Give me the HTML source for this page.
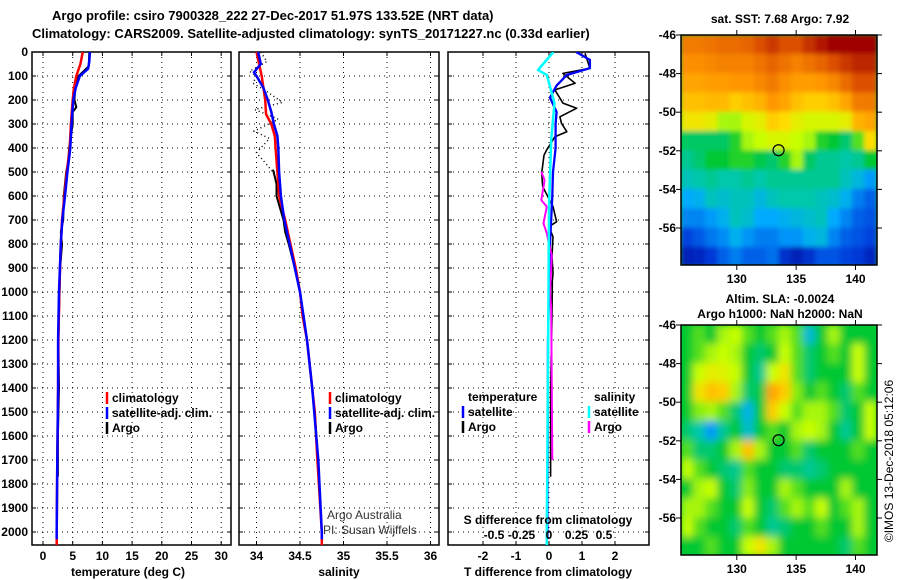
<!DOCTYPE html>
<html><head><meta charset="utf-8"><style>
html,body{margin:0;padding:0;background:#fff;}
svg{display:block;font-family:"Liberation Sans",Arial,sans-serif;}
.b{font-weight:bold;font-size:12px;}
.t{font-weight:bold;font-size:13px;}
.n{font-weight:normal;font-size:12px;}
</style></head><body>
<svg id="c" width="900" height="580" viewBox="0 0 900 580">
<defs>
<clipPath id="cp1"><rect x="32" y="52" width="199" height="493"/></clipPath>
<clipPath id="cp2"><rect x="239" y="52" width="200" height="493"/></clipPath>
<clipPath id="cp3"><rect x="448" y="52" width="201" height="493"/></clipPath>
<clipPath id="cpm1"><rect x="681" y="35" width="196" height="230"/></clipPath>
<clipPath id="cpm2"><rect x="681" y="325" width="196" height="230"/></clipPath>
<filter id="bl1" x="-5%" y="-5%" width="110%" height="110%"><feGaussianBlur stdDeviation="2.5"/></filter>
<filter id="bl2" x="-5%" y="-5%" width="110%" height="110%"><feGaussianBlur stdDeviation="4"/></filter>
</defs>
<text class="t" x="52" y="20">Argo profile: csiro 7900328_222 27-Dec-2017 51.97S 133.52E (NRT data)</text>
<text class="t" x="32" y="38">Climatology: CARS2009. Satellite-adjusted climatology: synTS_20171227.nc (0.33d earlier)</text>
</svg>
<script>
// ---- data ----
const depthTicks=[0,100,200,300,400,500,600,700,800,900,1000,1100,1200,1300,1400,1500,1600,1700,1800,1900,2000];
const tempTicks=[0,5,10,15,20,25,30];
const salTicks=[34,34.5,35,35.5,36];
const salTickLabels=["34","34.5","35","35.5","36"];
const tdiffTicks=[-2,-1,0,1,2];
const sdiffTicks=[-0.5,-0.25,0,0.25,0.5];
const sdiffTickLabels=["-0.5","-0.25","0","0.25","0.5"];

const tClimDepth=[0,50,100,150,200,300,400,500,600,700,800,1000,1200,1400,1700,2000,2055];
const tClimVal=[6.7,6.3,5.6,5.2,5.0,4.7,4.5,4.0,3.6,3.2,3.0,2.75,2.6,2.55,2.4,2.3,2.3];
const tSatDepth=[0,40,70,100,150,200,300,400,500,600,700,800,1000,1200,1400,1700,2000,2030];
const tSatVal=[7.9,7.8,7.6,6.2,5.5,5.1,4.8,4.6,4.1,3.7,3.25,3.0,2.7,2.55,2.55,2.4,2.3,2.3];
const tArgoDepth=[0,60,100,150,200,230,250,300,400,450,500,600,700,750,800,900,1000,1200,1400,1600,1770];
const tArgoVal=[7.8,7.7,6.0,5.4,5.3,5.6,5.0,5.0,4.4,4.3,3.9,3.5,3.4,3.0,3.2,2.9,2.8,2.6,2.7,2.5,2.5];

const sClimDepth=[0,100,200,260,300,350,400,500,600,700,800,900,1000,1100,1200,1400,1500,1700,2000,2055];
const sClimVal=[34.0,34.06,34.1,34.11,34.17,34.21,34.22,34.24,34.26,34.33,34.39,34.45,34.5,34.53,34.58,34.64,34.67,34.7,34.75,34.75];
const sSatDepth=[0,50,85,100,150,200,250,300,350,400,500,600,700,800,900,1000,1200,1400,1700,2000,2030];
const sSatVal=[34.02,34.05,33.97,34.0,34.08,34.13,34.17,34.2,34.24,34.25,34.26,34.28,34.32,34.38,34.44,34.5,34.58,34.64,34.71,34.75,34.75];
const sArgoDepth=[490,520,550,600,650,700,750,800,900,1000,1200,1500,1800];
const sArgoVal=[34.19,34.21,34.23,34.23,34.27,34.31,34.33,34.37,34.44,34.5,34.58,34.67,34.72];
const sArgoDotDepth=[0,40,80,100,130,160,210,240,280,330,360,420,470,500];
const sArgoDotVal=[34.05,34.12,33.92,34.0,33.96,34.1,34.3,33.98,34.25,33.97,34.15,34.0,34.12,34.19];

const dTSatDepth=[0,33,67,96,140,190,250,300,400,500,600,800,1000,1200,2000,2030];
const dTSatVal=[0.82,1.24,1.24,0.54,0.23,0.03,0.23,0.2,0.2,0.12,0.1,0.03,0.0,-0.03,-0.05,-0.05];
const dTArgoDepth=[5,68,89,130,158,213,234,270,297,332,353,408,430,505,561,644,707,728,770,850,922,955,1103,1400,1770];
const dTArgoVal=[1.09,1.24,0.42,0.79,0.18,0.42,0.84,0.33,0.38,0.54,0.18,-0.07,-0.15,-0.22,-0.19,0.12,0.23,0.0,0.12,0.09,0.12,0.1,0.09,0.05,0.05];
const dSSatDepth=[0,75,96,213,367,644,1000,2000,2055];
const dSSatVal=[0.04,-0.1,-0.02,0.05,0.02,0.0,-0.005,-0.02,-0.02];
const dSArgoDepth=[499,534,617,644,714,755,800,847,1000,1069,1700];
const dSArgoVal=[-0.07,-0.04,-0.07,-0.02,-0.05,-0.02,0.0,0.025,0.01,0.02,0.03];

const mapLatTicks=[-46,-48,-50,-52,-54,-56];
const mapLonTicks=[130,135,140];
const sstGrid=[
[0.84,0.84,0.85,0.86,0.86,0.87,0.9,0.93,0.9,0.9,0.94,0.97,1.0,1.0,1.0,1.0],
[0.81,0.81,0.82,0.83,0.83,0.83,0.85,0.87,0.85,0.83,0.85,0.87,0.9,0.93,0.95,0.95],
[0.78,0.78,0.79,0.79,0.8,0.8,0.82,0.84,0.81,0.79,0.79,0.8,0.82,0.86,0.9,0.9],
[0.74,0.74,0.75,0.75,0.72,0.74,0.76,0.8,0.78,0.74,0.72,0.72,0.74,0.78,0.84,0.84],
[0.68,0.68,0.66,0.6,0.6,0.64,0.66,0.72,0.7,0.66,0.64,0.64,0.64,0.66,0.76,0.78],
[0.46,0.46,0.46,0.46,0.52,0.6,0.62,0.64,0.64,0.62,0.6,0.52,0.5,0.45,0.55,0.7],
[0.42,0.45,0.5,0.5,0.52,0.52,0.48,0.45,0.52,0.6,0.46,0.42,0.42,0.4,0.42,0.5],
[0.38,0.4,0.42,0.4,0.4,0.42,0.4,0.42,0.42,0.42,0.42,0.42,0.42,0.38,0.34,0.28],
[0.3,0.32,0.38,0.36,0.38,0.38,0.34,0.38,0.4,0.4,0.4,0.38,0.36,0.32,0.24,0.2],
[0.25,0.25,0.28,0.32,0.38,0.36,0.3,0.3,0.32,0.34,0.36,0.38,0.3,0.25,0.2,0.18],
[0.16,0.19,0.23,0.26,0.32,0.27,0.24,0.24,0.27,0.27,0.32,0.34,0.25,0.2,0.18,0.16],
[0.08,0.1,0.14,0.2,0.24,0.2,0.2,0.22,0.12,0.08,0.12,0.18,0.18,0.16,0.14,0.1]];
const slaGrid=[
[0.5,0.55,0.5,0.6,0.62,0.55,0.5,0.55,0.6,0.55,0.35,0.5,0.6,0.5,0.5,0.5],
[0.5,0.55,0.6,0.62,0.6,0.5,0.45,0.5,0.62,0.55,0.45,0.5,0.55,0.5,0.62,0.5],
[0.5,0.62,0.66,0.65,0.62,0.5,0.42,0.62,0.68,0.55,0.45,0.5,0.5,0.5,0.62,0.5],
[0.5,0.68,0.74,0.72,0.6,0.45,0.48,0.78,0.72,0.58,0.5,0.55,0.5,0.45,0.55,0.5],
[0.5,0.58,0.6,0.55,0.45,0.33,0.5,0.72,0.62,0.55,0.6,0.6,0.55,0.45,0.5,0.62],
[0.45,0.4,0.28,0.42,0.5,0.36,0.5,0.55,0.5,0.6,0.62,0.6,0.5,0.42,0.5,0.62],
[0.55,0.45,0.45,0.5,0.6,0.74,0.6,0.5,0.5,0.55,0.45,0.5,0.5,0.5,0.55,0.5],
[0.62,0.55,0.5,0.45,0.42,0.55,0.5,0.5,0.45,0.45,0.42,0.45,0.5,0.5,0.5,0.5],
[0.5,0.6,0.62,0.5,0.45,0.58,0.5,0.5,0.6,0.55,0.5,0.5,0.5,0.6,0.5,0.5],
[0.6,0.6,0.55,0.5,0.5,0.62,0.5,0.45,0.55,0.6,0.55,0.62,0.5,0.55,0.6,0.5],
[0.62,0.55,0.5,0.5,0.45,0.55,0.5,0.42,0.45,0.5,0.5,0.55,0.5,0.5,0.6,0.5],
[0.5,0.5,0.55,0.5,0.5,0.62,0.68,0.6,0.5,0.5,0.5,0.5,0.5,0.45,0.55,0.5]];
const argoLon=133.52, argoLat=-51.97;

// ---- helpers ----
const svg=document.getElementById('c');
const NS='http://www.w3.org/2000/svg';
function mk(tag,attrs,parent){const e=document.createElementNS(NS,tag);for(const k in attrs)e.setAttribute(k,attrs[k]);(parent||svg).appendChild(e);return e;}
function txt(x,y,s,cls,anchor,parent){const e=mk('text',{x:x,y:y,'class':cls||'b','text-anchor':anchor||'start'},parent);e.textContent=s;return e;}
const dy=d=>52+d*0.24;
const tx=t=>43+t*5.94;
const sx=s=>256.5+(s-34)*87;
const tdx=v=>549+v*33;
const sdx=v=>549+v*110;

function panel(x0,x1,name,xTicks,xf,labels,title,titleX){
  const g=mk('g',{});
  
  
  depthTicks.forEach(d=>{ if(d>0){const l=mk('line',{x1:x0,x2:x1,y1:dy(d),y2:dy(d),stroke:'#000','stroke-width':1,'stroke-dasharray':'1,4'},g);
    
    }
    mk('line',{x1:x0,x2:x0+4,y1:dy(d),y2:dy(d),stroke:'#000'},g);
    mk('line',{x1:x1-4,x2:x1,y1:dy(d),y2:dy(d),stroke:'#000'},g);});
  xTicks.forEach((v,i)=>{const X=xf(v);
    const l=mk('line',{x1:X,x2:X,y1:52,y2:545,stroke:'#000','stroke-width':1,'stroke-dasharray':'1,4'},g);
    
    
    mk('line',{x1:X,x2:X,y1:541,y2:545,stroke:'#000'},g);
    mk('line',{x1:X,x2:X,y1:52,y2:56,stroke:'#000'},g);
    const t=txt(X,560,labels[i],'b','middle',g);
    
    });
  const r=mk('rect',{x:x0,y:52,width:x1-x0,height:493,fill:'none',stroke:'#000','stroke-width':1.5},g);
  
  
  const tt=txt(titleX,576,title,'b','middle',g);
  
  
  return g;
}
function series(depths,vals,xf,color,w,clip,name,dash){
  const pts=depths.map((d,i)=>xf(vals[i]).toFixed(1)+','+dy(d).toFixed(1)).join(' ');
  const p=mk('polyline',{points:pts,fill:'none',stroke:color,'stroke-width':w,'clip-path':'url(#'+clip+')','stroke-linejoin':'round'});
  if(dash)p.setAttribute('stroke-dasharray',dash);
  
  
}
function legendEntry(x,y,label,color,name){
  const g=mk('g',{});
  
  
  if(color)mk('line',{x1:x,x2:x,y1:y-10,y2:y+2,stroke:color,'stroke-width':2.5},g);
  txt(x+5,y,label,'b','start',g);
}

depthTicks.forEach(d=>{const t=txt(28,dy(d)+4,String(d),'b','end');
  
  });

panel(32,231,'temperature-panel',tempTicks,tx,tempTicks.map(String),'temperature (deg C)',128);
panel(239,439,'salinity-panel',salTicks,sx,salTickLabels,'salinity',339);
panel(448,649,'difference-panel',tdiffTicks,tdx,tdiffTicks.map(String),'T difference from climatology',548);

series(tArgoDepth,tArgoVal,tx,'#000',2,'cp1','temp-argo-line');
series(tClimDepth,tClimVal,tx,'#f00',2.5,'cp1','temp-climatology-line');
series(tSatDepth,tSatVal,tx,'#00f',2.5,'cp1','temp-satellite-line');
series(sArgoDotDepth,sArgoDotVal,sx,'#000',1.5,'cp2','sal-argo-dotted',"1,3");
series(sArgoDepth,sArgoVal,sx,'#000',2,'cp2','sal-argo-line');
series(sClimDepth,sClimVal,sx,'#f00',2.5,'cp2','sal-climatology-line');
series(sSatDepth,sSatVal,sx,'#00f',2.5,'cp2','sal-satellite-line');
series(dTArgoDepth,dTArgoVal,tdx,'#000',1.6,'cp3','tdiff-argo-line');
series(dTSatDepth,dTSatVal,tdx,'#00f',2.3,'cp3','tdiff-satellite-line');
series(dSArgoDepth,dSArgoVal,sdx,'#f0f',2,'cp3','sdiff-argo-line');
series(dSSatDepth,dSSatVal,sdx,'#0ff',2.5,'cp3','sdiff-satellite-line');

legendEntry(107,402,'climatology','#f00','legend-temp-climatology');
legendEntry(107,417,'satellite-adj. clim.','#00f','legend-temp-satellite');
legendEntry(107,432,'Argo','#000','legend-temp-argo');
legendEntry(330,402,'climatology','#f00','legend-sal-climatology');
legendEntry(330,417,'satellite-adj. clim.','#00f','legend-sal-satellite');
legendEntry(330,432,'Argo','#000','legend-sal-argo');
legendEntry(463,401,'temperature',null,'legend-temperature-header');
legendEntry(463,416,'satellite','#00f','legend-tdiff-satellite');
legendEntry(463,431,'Argo','#000','legend-tdiff-argo');
legendEntry(589,401,'salinity',null,'legend-salinity-header');
legendEntry(589,416,'satellite','#0ff','legend-sdiff-satellite');
legendEntry(589,431,'Argo','#f0f','legend-sdiff-argo');

const sTitle=txt(548,524,'S difference from climatology','b','middle');


sdiffTicks.forEach((v,i)=>{const t=txt(sdx(v),539,sdiffTickLabels[i],'b','middle');
  
  });

const cr1=txt(327,519,'Argo Australia','n','start');cr1.setAttribute('fill','#333');


const cr2=txt(323,534,'PI: Susan Wijffels','n','start');cr2.setAttribute('fill','#333');



// ---- maps ----
const palStops=[[0,[0,0,140]],[0.15,[0,60,220]],[0.3,[0,170,255]],[0.4,[0,200,170]],[0.5,[0,200,50]],[0.62,[200,255,0]],[0.7,[255,220,0]],[0.8,[255,150,0]],[0.9,[220,80,0]],[1,[160,0,0]]];
function pal(v){v=Math.max(0,Math.min(1,v));for(let i=1;i<palStops.length;i++){if(v<=palStops[i][0]){const a=palStops[i-1],b=palStops[i];const f=(v-a[0])/(b[0]-a[0]);const c=a[1].map((x,k)=>Math.round(x+(b[1][k]-x)*f));return 'rgb('+c.join(',')+')';}}return 'rgb(160,0,0)';}
function map(y0,grid,name,clip,filt,bg){
  const lonx=l=>681+(l-125.3)*11.87;
  const laty=l=>y0+(-46-l)*19.3;
  const g=mk('g',{'clip-path':'url(#'+clip+')'});
  
  
  mk('rect',{x:681,y:y0,width:196,height:230,fill:bg},g);
  const cells=mk('g',{filter:'url(#'+filt+')'},g);
  const cw=196/16;
  grid.forEach((row,r)=>row.forEach((v,c)=>{
    const e=mk('rect',{x:(681+c*cw-0.5).toFixed(1),y:laty(-46-r)-0.5,width:cw+1,height:20.3,fill:pal(v)},cells);
    
    }));
  const ci=mk('circle',{cx:lonx(argoLon),cy:laty(argoLat),r:5.5,fill:'none',stroke:'#000','stroke-width':1.2});
  
  
  mk('rect',{x:681,y:y0,width:196,height:230,fill:'none',stroke:'#000','stroke-width':1.5});
  mapLatTicks.forEach(l=>{const Y=laty(l);
    const t=txt(676,Y+4,String(l),'b','end');
    
    
    mk('line',{x1:877,x2:882,y1:Y,y2:Y,stroke:'#000'});
    mk('line',{x1:676,x2:681,y1:Y,y2:Y,stroke:'#000'});});
  mapLonTicks.forEach(l=>{const X=lonx(l);
    const t=txt(X,y0+248,String(l),'b','middle');
    
    
    mk('line',{x1:X,x2:X,y1:y0-5,y2:y0,stroke:'#000'});
    mk('line',{x1:X,x2:X,y1:y0+230,y2:y0+235,stroke:'#000'});});
}
map(35,sstGrid,'sst-map','cpm1','bl1','rgb(0,200,50)');
map(325,slaGrid,'sla-map','cpm2','bl2','rgb(0,200,50)');
const mt1=txt(780,23,'sat. SST: 7.68 Argo: 7.92','b','middle');


const mt2=txt(780,303,'Altim. SLA: -0.0024','b','middle');


const mt3=txt(780,318,'Argo h1000: NaN h2000: NaN','b','middle');


const cp=txt(0,0,'©IMOS 13-Dec-2018 05:12:06','n','middle');
cp.setAttribute('transform','translate(893,461) rotate(-90)');


</script>
</body></html>
